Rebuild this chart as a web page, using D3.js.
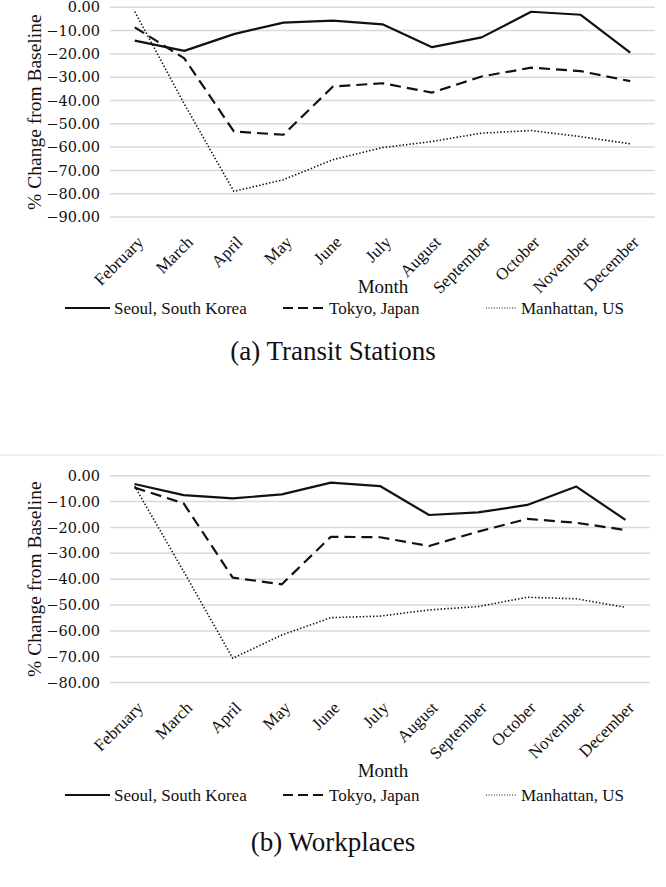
<!DOCTYPE html>
<html>
<head>
<meta charset="utf-8">
<script src="https://cdn.jsdelivr.net/npm/d3@7"></script>
<style>
  body { margin: 0; background: #fff; }
  svg { display: block; }
</style>
</head>
<body>
<div id="grafica"></div>
<script>
// Datos
var meses = ["February", "March", "April", "May", "June", "July", "August", "September", "October", "November", "December"]
var ciudades = ["Seoul, South Korea", "Tokyo, Japan", "Manhattan, US"]

// (a) Transit Stations
var transit_seoul = [-14.3, -18.7, -11.5, -6.6, -5.7, -7.3, -17.1, -12.9, -1.9, -3.2, -19.4]
var transit_tokyo = [-8.6, -21.9, -53.3, -54.7, -34.0, -32.6, -36.6, -29.7, -25.9, -27.4, -31.7]
var transit_manhattan = [-1.9, -41.5, -79.0, -74.0, -65.4, -60.2, -57.6, -54.0, -52.9, -55.5, -58.6]
var transit_ticks = [0, -10, -20, -30, -40, -50, -60, -70, -80, -90]

// (b) Workplaces
var work_seoul = [-3.2, -7.5, -8.8, -7.2, -2.7, -4.0, -15.2, -14.2, -11.3, -4.2, -17.1]
var work_tokyo = [-4.6, -10.7, -39.4, -42.0, -23.6, -23.8, -27.2, -21.6, -16.7, -18.2, -21.0]
var work_manhattan = [-4.0, -37.0, -70.6, -61.6, -54.9, -54.3, -51.9, -50.6, -47.0, -47.6, -50.9]
var work_ticks = [0, -10, -20, -30, -40, -50, -60, -70, -80]

var width = 666
var height = 887
var fuente = "'Liberation Serif', serif"
var fuenteNum = "'DejaVu Serif', serif"
var estilos = [
    {dash: null, w: 2.2},
    {dash: "11,6", w: 2.2},
    {dash: "1.4,2", w: 1.6}
]

var svg = d3.select("#grafica")
    .append("svg")
    .attr("width", width)
    .attr("height", height)
    .style("font-family", fuente)

function pinta_panel(cfg) {
    var x = d3.scalePoint()
        .domain(meses)
        .range([cfg.left, cfg.right])
        .padding(0.5)

    var y = d3.scaleLinear()
        .domain([d3.min(cfg.ticks), 0])
        .range([cfg.bottom, cfg.top])

    var g = svg.append("g")

    // rejilla
    g.append("g")
        .selectAll("line")
        .data(cfg.ticks)
        .join("line")
        .attr("x1", cfg.left)
        .attr("x2", cfg.right)
        .attr("y1", d => y(d))
        .attr("y2", d => y(d))
        .attr("stroke", "#d9d9d9")
        .attr("stroke-width", 1.5)

    // eje y
    var yAxis = g.append("g")
        .attr("transform", "translate(" + cfg.left + ",0)")
        .call(d3.axisLeft(y).tickValues(cfg.ticks).tickFormat(d3.format(".2f")).tickSize(0).tickPadding(10))
    yAxis.select(".domain").remove()
    yAxis.selectAll("text")
        .attr("font-family", fuenteNum)
        .attr("font-size", "14.5px")
        .attr("fill", "#111")

    // eje x
    var xAxis = g.append("g")
        .attr("transform", "translate(0," + cfg.bottom + ")")
        .call(d3.axisBottom(x).tickSize(0).tickPadding(0))
    xAxis.select(".domain").remove()
    xAxis.selectAll("text")
        .attr("font-family", fuente)
        .attr("font-size", "17px")
        .attr("fill", "#111")
        .attr("text-anchor", "end")
        .attr("dy", "0.35em")
        .attr("transform", "translate(5,22) rotate(-45)")

    // titulos
    g.append("text")
        .attr("transform", "translate(" + cfg.ytitleX + "," + ((cfg.top + cfg.bottom) / 2) + ") rotate(-90)")
        .attr("text-anchor", "middle")
        .attr("font-size", "19.5px")
        .attr("fill", "#111")
        .text("% Change from Baseline")

    g.append("text")
        .attr("x", 383)
        .attr("y", cfg.monthY)
        .attr("text-anchor", "middle")
        .attr("font-size", "19px")
        .attr("fill", "#111")
        .text("Month")

    // lineas
    var linea = d3.line()
        .x((d, i) => x(meses[i]))
        .y(d => y(d))

    g.append("g")
        .selectAll("path")
        .data(cfg.series)
        .join("path")
        .attr("d", d => linea(d))
        .attr("fill", "none")
        .attr("stroke", "#111")
        .attr("stroke-width", (d, i) => estilos[i].w)
        .attr("stroke-dasharray", (d, i) => estilos[i].dash)
        .attr("stroke-linejoin", "round")

    // leyenda
    var leyX = [[65, 110], [283, 325], [486, 517]]
    var ley = g.append("g")
        .selectAll("g")
        .data(ciudades)
        .join("g")
    ley.append("line")
        .attr("x1", (d, i) => leyX[i][0])
        .attr("x2", (d, i) => leyX[i][1])
        .attr("y1", cfg.legendY)
        .attr("y2", cfg.legendY)
        .attr("stroke", "#111")
        .attr("stroke-width", (d, i) => i == 2 ? 1.2 : 2.2)
        .attr("stroke-dasharray", (d, i) => i == 1 ? "10,5" : (i == 2 ? "1,1.6" : null))
    ley.append("text")
        .attr("x", (d, i) => leyX[i][1] + 4)
        .attr("y", cfg.legendY)
        .attr("dy", "0.35em")
        .attr("font-size", "17px")
        .attr("fill", "#111")
        .text(d => d)

    // pie
    g.append("text")
        .attr("x", 333)
        .attr("y", cfg.captionY)
        .attr("dy", "0.35em")
        .attr("text-anchor", "middle")
        .attr("font-size", "27px")
        .attr("fill", "#111")
        .text(cfg.caption)
}

pinta_panel({
    left: 110, right: 655, top: 7.3, bottom: 217,
    ticks: transit_ticks,
    series: [transit_seoul, transit_tokyo, transit_manhattan],
    ytitleX: 41, monthY: 293, legendY: 308, captionY: 351,
    caption: "(a) Transit Stations"
})

// borde del segundo grafico
svg.append("line")
    .attr("x1", 0).attr("x2", 663)
    .attr("y1", 455).attr("y2", 455)
    .attr("stroke", "#e3e3e3")
    .attr("stroke-width", 1.2)

pinta_panel({
    left: 110, right: 650, top: 475.7, bottom: 682.6,
    ticks: work_ticks,
    series: [work_seoul, work_tokyo, work_manhattan],
    ytitleX: 41, monthY: 777, legendY: 795, captionY: 842,
    caption: "(b) Workplaces"
})
</script>
</body>
</html>
